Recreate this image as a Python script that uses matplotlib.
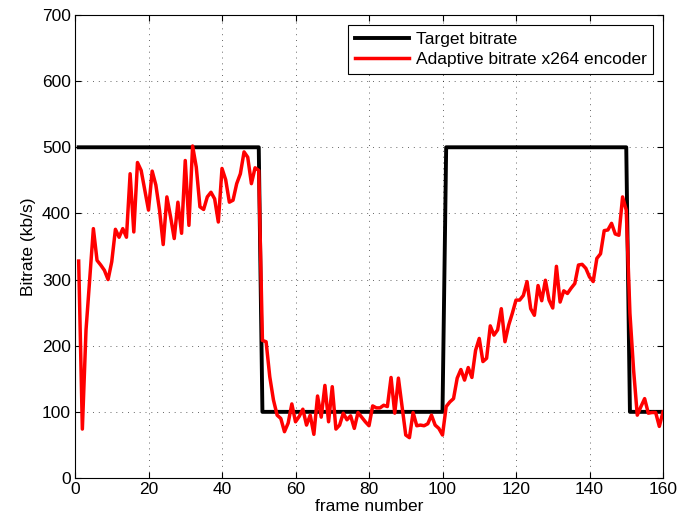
import matplotlib
matplotlib.use("Agg")
import matplotlib.pyplot as plt
import numpy as np

plt.rcParams['font.family'] = ['Liberation Sans', 'DejaVu Sans']

# target bitrate steps (frame, kb/s)
target_frames = [1, 50, 51, 100, 101, 150, 151, 160]
target_rate = [500, 500, 100, 100, 500, 500, 100, 100]

# measured bitrate of the adaptive encoder, frames 1..160
encoder_rate = [
    328, 74, 224, 300, 377, 329, 322, 314, 300, 327,
    376, 364, 377, 364, 460, 372, 477, 465, 435, 405,
    464, 443, 405, 353, 425, 395, 362, 417, 370, 480,
    382, 502, 470, 410, 406, 425, 432, 422, 387, 468,
    451, 417, 420, 445, 460, 493, 485, 445, 469, 465,
    208, 206, 153, 118, 95, 90, 70, 83, 112, 85,
    93, 104, 80, 95, 66, 124, 92, 140, 85, 138,
    74, 80, 98, 88, 94, 75, 99, 92, 85, 79,
    109, 106, 106, 110, 108, 152, 98, 151, 108, 65,
    61, 99, 79, 80, 79, 82, 95, 80, 75, 65,
    108, 115, 120, 151, 164, 148, 167, 152, 193, 211,
    176, 181, 230, 216, 224, 256, 206, 231, 249, 269,
    269, 276, 297, 256, 246, 291, 268, 299, 269, 257,
    320, 266, 283, 279, 287, 294, 322, 323, 317, 304,
    297, 332, 339, 374, 375, 385, 369, 367, 425, 405,
    249, 163, 95, 108, 120, 98, 99, 99, 78, 100,
]
frames = np.arange(1, len(encoder_rate) + 1)

fs = 12.5
fig = plt.figure(figsize=(6.78, 5.27), dpi=100)
ax = fig.add_axes([75 / 678, 49 / 527, 588 / 678, 463 / 527])

ax.plot(target_frames, target_rate, color="black", linewidth=2.8, label="Target bitrate")
ax.plot(frames, encoder_rate, color="red", linewidth=2.5, label="Adaptive bitrate x264 encoder")

ax.set_xlim(0, 160)
ax.set_ylim(0, 700)
ax.set_xticks(np.arange(0, 161, 20))
ax.set_yticks(np.arange(0, 701, 100))
ax.grid(True, linestyle=(0, (1, 5)), color="black", linewidth=0.7, alpha=0.6)
ax.tick_params(direction="in", top=True, right=True, labelsize=fs, length=4, pad=3)
for s in ax.spines.values():
    s.set_linewidth(0.8)

ax.set_xlabel("frame number", fontsize=fs, labelpad=1)
ax.set_ylabel("Bitrate (kb/s)", fontsize=fs, labelpad=4)

leg = ax.legend(loc="upper right", fontsize=fs, fancybox=False, framealpha=1,
                edgecolor="black", borderaxespad=0.55, handlelength=3.1,
                handletextpad=0.4, labelspacing=0.3, borderpad=0.4)
leg.get_frame().set_linewidth(0.8)

fig.savefig("out.png", dpi=100)
